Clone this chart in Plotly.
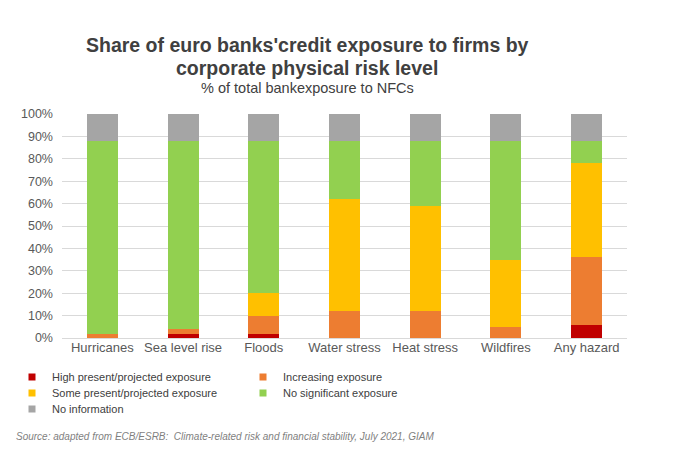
import plotly.graph_objects as go

# Hazard categories along the x axis
categories = ["Hurricanes", "Sea level rise", "Floods", "Water stress",
              "Heat stress", "Wildfires", "Any hazard"]

# Share of exposure (%) per risk level, bottom to top of each stack
high_exposure = [0, 2, 2, 0, 0, 0, 6]
increasing_exposure = [2, 2, 8, 12, 12, 5, 30]
some_exposure = [0, 0, 10, 50, 47, 30, 42]
no_significant = [86, 84, 68, 26, 29, 53, 10]
no_information = [12, 12, 12, 12, 12, 12, 12]

y_ticks = [0, 10, 20, 30, 40, 50, 60, 70, 80, 90, 100]
y_tick_labels = [f"{v}%" for v in y_ticks]

# (name, values, colour, legend row)
series = [
    ("High present/projected exposure", high_exposure, "#C00000", "legend"),
    ("Increasing exposure", increasing_exposure, "#ED7D31", "legend"),
    ("Some present/projected exposure", some_exposure, "#FFC000", "legend2"),
    ("No significant exposure", no_significant, "#92D050", "legend2"),
    ("No information", no_information, "#A5A5A5", "legend3"),
]

SANS = "Liberation Sans, Arial, sans-serif"

fig = go.Figure()
for name, vals, color, leg in series:
    fig.add_trace(go.Bar(
        x=categories, y=vals, name=name,
        marker=dict(color=color, line=dict(width=0)),
        width=0.385, showlegend=False,
    ))
    # small square key for the legend
    fig.add_trace(go.Scatter(
        x=[None], y=[None], mode="markers", name=name,
        marker=dict(symbol="square", size=7, color=color),
        legend=leg, showlegend=True,
    ))

W, H = 692, 450


def legend_row(y_center):
    return dict(
        orientation="h",
        x=12 / W, xref="container", xanchor="left",
        y=1 - y_center / H, yref="container", yanchor="middle",
        entrywidth=186, entrywidthmode="pixels",
        traceorder="normal", itemsizing="trace",
        font=dict(family=SANS, size=11, color="#404040"),
        bgcolor="rgba(0,0,0,0)", borderwidth=0,
    )


fig.update_layout(
    barmode="stack",
    width=W, height=H,
    margin=dict(l=62, r=65, t=114, b=112, autoexpand=False),
    paper_bgcolor="white", plot_bgcolor="white",
    font=dict(family=SANS, color="#595959", size=13),
    showlegend=True,
    legend=legend_row(377),
    legend2=legend_row(393),
    legend3=legend_row(409),
)

fig.update_xaxes(
    showgrid=False, showline=False, ticks="",
    tickfont=dict(family=SANS, size=13, color="#595959"),
)
fig.update_yaxes(
    range=[0, 100], tickmode="array", tickvals=y_ticks, ticktext=y_tick_labels,
    showgrid=True, gridcolor="#D9D9D9", gridwidth=1,
    zeroline=True, zerolinecolor="#D9D9D9", zerolinewidth=1,
    tickfont=dict(family=SANS, size=12.5, color="#595959"),
    ticks="", showline=False, ticklabelstandoff=8,
)

cx = (307 - 62) / 565
fig.add_annotation(
    text="<b>Share of euro banks'credit exposure to firms by</b>",
    xref="paper", yref="paper", x=cx, y=1 + (338 - 45 - 224) / 224,
    xanchor="center", yanchor="middle", showarrow=False,
    font=dict(family=SANS, size=19.5, color="#404040"),
)
fig.add_annotation(
    text="<b>corporate physical risk level</b>",
    xref="paper", yref="paper", x=cx, y=1 + (338 - 68 - 224) / 224,
    xanchor="center", yanchor="middle", showarrow=False,
    font=dict(family=SANS, size=19.5, color="#404040"),
)
fig.add_annotation(
    text="% of total bankexposure to NFCs",
    xref="paper", yref="paper", x=cx, y=1 + (338 - 88 - 224) / 224,
    xanchor="center", yanchor="middle", showarrow=False,
    font=dict(family=SANS, size=14.5, color="#404040"),
)

fig.add_annotation(
    text="<i>Source: adapted from ECB/ESRB:  Climate-related risk and financial stability, July 2021, GIAM</i>",
    xref="paper", yref="paper",
    x=(14 - 62) / 565, y=-(436 - 338) / 224,
    xanchor="left", yanchor="middle", showarrow=False,
    font=dict(family=SANS, size=10, color="#7F7F7F"),
)

fig.write_html("out.html")
